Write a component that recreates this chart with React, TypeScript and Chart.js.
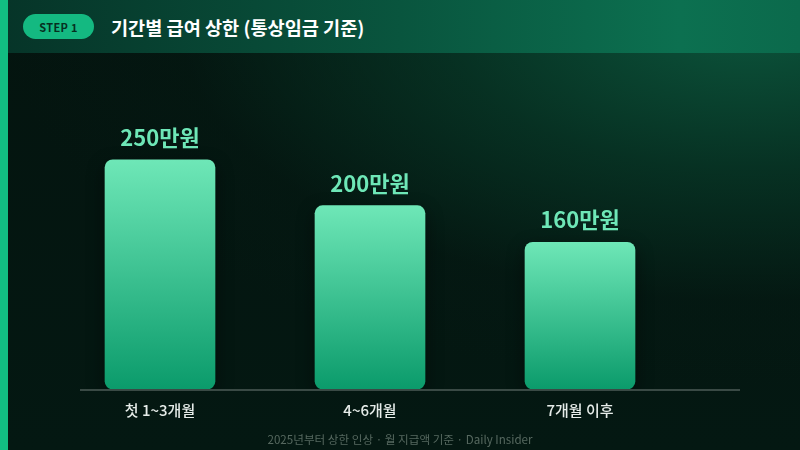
import React, { useEffect, useRef } from "react";
import { Chart, registerables } from "chart.js";

Chart.register(...registerables);

const categories = ["첫 1~3개월", "4~6개월", "7개월 이후"];
const values = [250, 200, 160];
const valueLabels = ["250만원", "200만원", "160만원"];
const title = "기간별 급여 상한 (통상임금 기준)";
const stepLabel = "STEP 1";
const footer = "2025년부터 상한 인상 · 월 지급액 기준 · Daily Insider";

const FONT = "'Noto Sans CJK KR', 'Noto Sans', sans-serif";

export default function App() {
  const canvasRef = useRef<HTMLCanvasElement | null>(null);

  useEffect(() => {
    const canvas = canvasRef.current;
    if (!canvas) return;

    const barShadow = {
      id: "barShadow",
      beforeDatasetsDraw(chart: any) {
        const { ctx, chartArea } = chart;
        ctx.save();
        ctx.strokeStyle = "#3a4a45";
        ctx.lineWidth = 2;
        ctx.beginPath();
        ctx.moveTo(chartArea.left + 25, chartArea.bottom + 1);
        ctx.lineTo(chartArea.right + 55, chartArea.bottom + 1);
        ctx.stroke();
        ctx.restore();
        ctx.save();
        ctx.shadowColor = "rgba(0,0,0,0.45)";
        ctx.shadowBlur = 18;
        ctx.shadowOffsetY = 6;
      },
      afterDatasetsDraw(chart: any) {
        const { ctx } = chart;
        ctx.restore();
        const meta = chart.getDatasetMeta(0);
        ctx.save();
        ctx.fillStyle = "#6ee7b7";
        ctx.font = `bold 22px ${FONT}`;
        ctx.textAlign = "center";
        ctx.textBaseline = "alphabetic";
        meta.data.forEach((bar: any, i: number) => {
          ctx.fillText(valueLabels[i], bar.x, bar.y - 14);
        });
        ctx.restore();
      },
    };

    const chart = new Chart(canvas, {
      type: "bar",
      data: {
        labels: categories,
        datasets: [
          {
            data: values,
            barThickness: 110,
            borderRadius: 8,
            borderSkipped: false,
            backgroundColor: (c: any) => {
              const ch = c.chart;
              const ys = ch.scales && ch.scales.y;
              if (!ys || c.dataIndex === undefined) return "#3cc491";
              const top = ys.getPixelForValue(values[c.dataIndex]);
              const bottom = ys.getPixelForValue(0);
              if (!isFinite(top) || !isFinite(bottom)) return "#3cc491";
              const g = ch.ctx.createLinearGradient(0, top, 0, bottom);
              g.addColorStop(0, "#6ee7b7");
              g.addColorStop(1, "#0b9b6b");
              return g;
            },
          },
        ],
      },
      options: {
        responsive: false,
        animation: false,
        layout: { padding: { left: 55, right: 115, top: 114, bottom: 19 } },
        plugins: {
          legend: { display: false },
          tooltip: { enabled: false },
        },
        scales: {
          x: {
            grid: { display: false, drawTicks: false, tickLength: 0 },
            border: { display: false },
            ticks: {
              color: "#e6ece9",
              padding: 12,
              font: { family: FONT, size: 15, weight: "500" },
            },
          },
          y: {
            display: false,
            min: 0,
            max: 300,
          },
        },
      },
      plugins: [barShadow],
    });

    return () => chart.destroy();
  }, []);

  return (
    <div
      style={{
        position: "fixed",
        left: 0,
        top: 0,
        width: 800,
        height: 450,
        overflow: "hidden",
        fontFamily: FONT,
        background:
          "radial-gradient(ellipse 110% 95% at 94% 5%, rgba(12,88,62,0.95) 0%, rgba(8,60,42,0.7) 35%, rgba(5,30,22,0.2) 65%, rgba(5,28,20,0) 85%), linear-gradient(180deg, #04140f 0%, #041812 100%)",
      }}
    >
      <div
        style={{
          position: "absolute",
          left: 0,
          top: 0,
          width: 800,
          height: 53,
          background: "linear-gradient(90deg, #063428 0%, #09553e 50%, #0c7050 85%, #0b6a4c 100%)",
        }}
      />
      <div
        style={{
          position: "absolute",
          left: 0,
          top: 0,
          width: 8,
          height: 450,
          background: "#12bd82",
        }}
      />
      <div
        style={{
          position: "absolute",
          left: 23,
          top: 14,
          width: 71,
          height: 25,
          borderRadius: 13,
          background: "#14b981",
          color: "#06301f",
          fontSize: 11,
          fontWeight: 700,
          display: "flex",
          alignItems: "center",
          justifyContent: "center",
          letterSpacing: 0.3,
        }}
      >
        {stepLabel}
      </div>
      <div
        style={{
          position: "absolute",
          left: 111,
          top: 14,
          height: 25,
          lineHeight: "25px",
          color: "#ffffff",
          fontSize: 18.6,
          fontWeight: 700,
        }}
      >
        {title}
      </div>
      <canvas
        ref={canvasRef}
        width={800}
        height={450}
        style={{ position: "absolute", left: 0, top: 0, width: 800, height: 450 }}
      />
      <div
        style={{
          position: "absolute",
          left: 0,
          top: 431,
          width: 800,
          textAlign: "center",
          color: "#56685f",
          fontSize: 11.6,
          lineHeight: "16px",
        }}
      >
        {footer}
      </div>
    </div>
  );
}
